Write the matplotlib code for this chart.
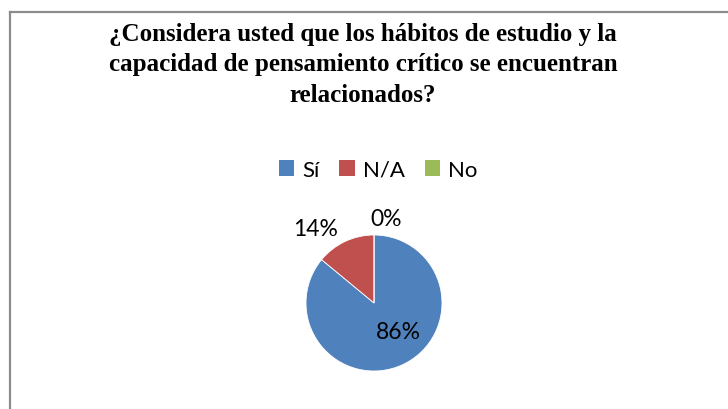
import matplotlib
matplotlib.use('Agg')
import matplotlib.pyplot as plt
from matplotlib.lines import Line2D
from matplotlib.patches import Patch
import numpy as np

categories = ['Sí', 'N/A', 'No']
values = [86, 14, 0]
pct_labels = ['86%', '14%', '0%']
colors = ['#4F81BD', '#C0504D', '#9BBB59']
title = ('¿Considera usted que los hábitos de estudio y la\n'
         'capacidad de pensamiento crítico se encuentran\n'
         'relacionados?')

W, H = 728, 410
fig = plt.figure(figsize=(W / 100, H / 100), dpi=100)
fig.patch.set_facecolor('white')

# gray frame: only top and left edges fall inside the picture
fig.add_artist(Line2D([9.5 / W, 1], [1 - 12.5 / H, 1 - 12.5 / H], color='#8c8c8c', lw=1.6))
fig.add_artist(Line2D([9.5 / W, 9.5 / W], [0, 1 - 12.5 / H], color='#8c8c8c', lw=1.6))

fig.text(363 / W, 1 - 65 / H, title, ha='center', va='center', fontsize=18,
         fontweight='bold', family='Liberation Serif', linespacing=1.4)

# pie, center (374,304) px, radius 68 px
cx, cy, r = 374, 304, 68
ax = fig.add_axes([(cx - r) / W, (H - cy - r) / H, 2 * r / W, 2 * r / H])
wedges, _ = ax.pie(values, colors=colors, startangle=90, counterclock=False,
                   radius=1, wedgeprops=dict(edgecolor='white', linewidth=0.6))
ax.set_xlim(-1, 1)
ax.set_ylim(-1, 1)
ax.set_aspect('equal')
ax.axis('off')

# label placement (radius, extra angle) per wedge
label_pos = [(0.55, 15), (1.4, 13), (1.25, -8)]
for w, lab, (rad, dang) in zip(wedges, pct_labels, label_pos):
    ang = np.deg2rad((w.theta1 + w.theta2) / 2 + dang)
    ax.text(rad * np.cos(ang), rad * np.sin(ang), lab, ha='center', va='center',
            fontsize=16.5, family='Lato', clip_on=False)

handles = [Patch(facecolor=c, edgecolor='none') for c in colors]
fig.legend(handles, categories, ncol=3, loc='center', bbox_to_anchor=(378 / W, 1 - 171 / H),
           frameon=False, prop=dict(family='Lato', size=16), handlelength=0.7,
           handleheight=0.7, handletextpad=0.35, columnspacing=0.9)

fig.savefig('out.png', dpi=100)
